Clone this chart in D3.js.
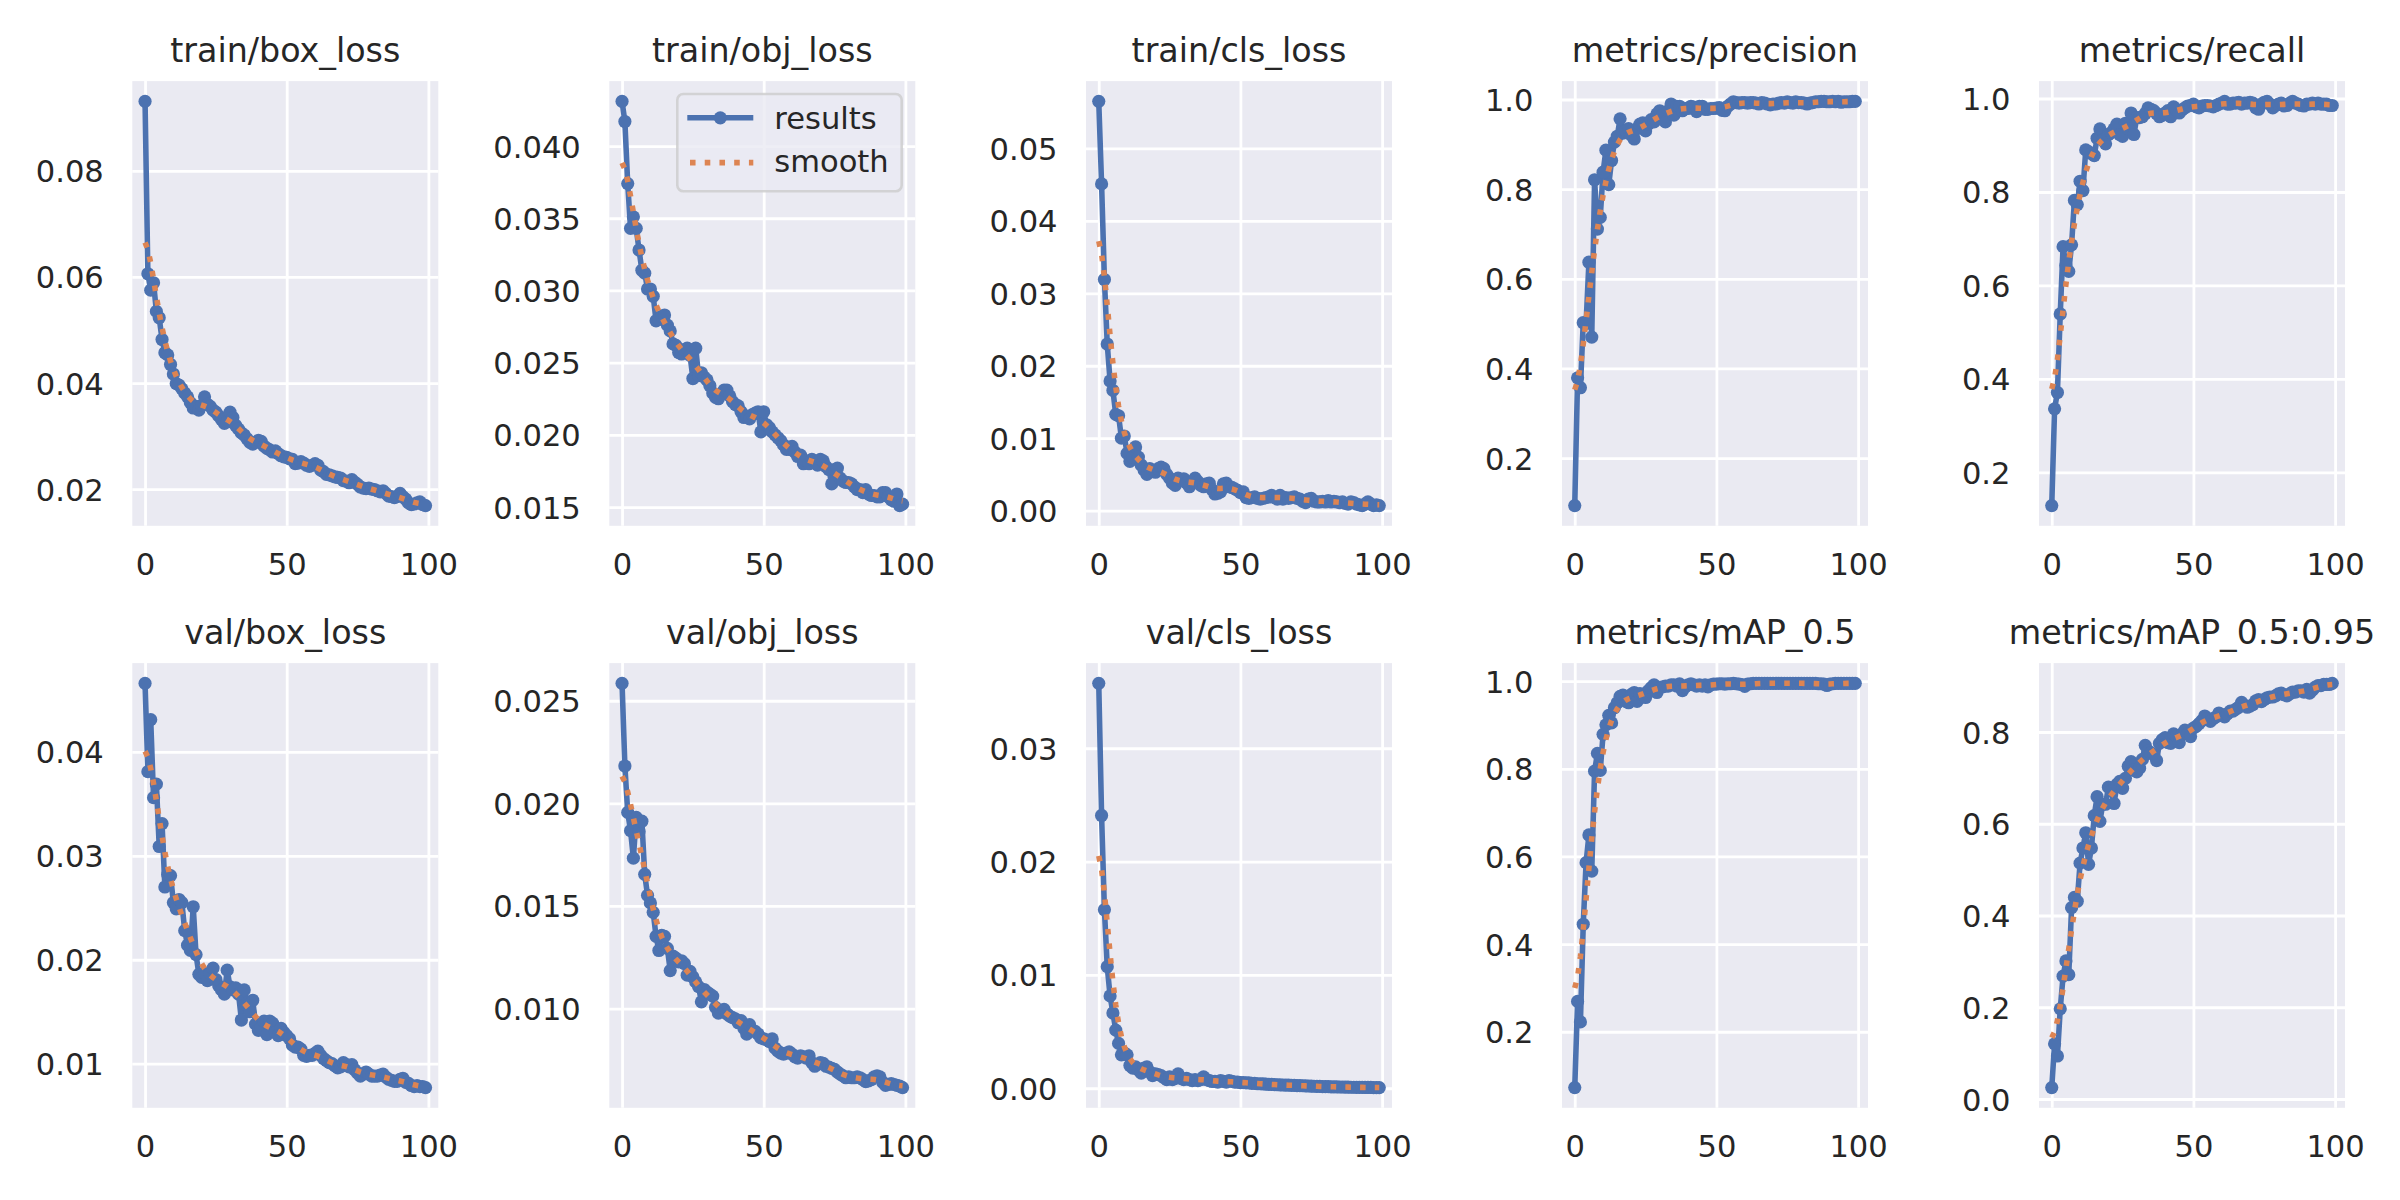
<!DOCTYPE html>
<html><head><meta charset="utf-8">
<script src="https://cdn.jsdelivr.net/npm/d3@7"></script>
<style>body{margin:0;background:#fff}text{font-family:"DejaVu Sans",sans-serif;fill:#262626}</style>
</head><body>
<svg id="chart" width="2400" height="1200"></svg>
<script>
// ---------------- data ----------------
const epochs = d3.range(100);
const xTicks = [0, 50, 100];

const trainBox = [0.0931,0.0606,0.0575,0.0589,0.0535,0.0523,0.0482,0.0457,0.0453,0.0435,
0.0417,0.0399,0.0396,0.0389,0.0381,0.0374,0.0363,0.0353,0.0356,0.0349,
0.0358,0.0374,0.0360,0.0356,0.0349,0.0345,0.0338,0.0331,0.0324,0.0327,
0.0345,0.0335,0.0320,0.0313,0.0306,0.0302,0.0295,0.0288,0.0285,0.0288,
0.0292,0.0290,0.0281,0.0277,0.0274,0.0270,0.0272,0.0267,0.0263,0.0261,
0.0260,0.0257,0.0256,0.0248,0.0249,0.0252,0.0249,0.0245,0.0243,0.0245,
0.0248,0.0245,0.0236,0.0233,0.0228,0.0227,0.0225,0.0223,0.0222,0.0221,
0.0216,0.0215,0.0212,0.0218,0.0213,0.0209,0.0204,0.0202,0.0201,0.0202,
0.0200,0.0199,0.0197,0.0195,0.0197,0.0192,0.0187,0.0186,0.0184,0.0186,
0.0192,0.0186,0.0181,0.0174,0.0171,0.0172,0.0174,0.0176,0.0171,0.0169];

const trainObj = [0.0431,0.0417,0.0374,0.0343,0.0351,0.0343,0.0328,0.0314,0.0312,0.0301,
0.0301,0.0296,0.0279,0.0280,0.0282,0.0283,0.0276,0.0272,0.0263,0.0262,
0.0257,0.0256,0.0259,0.0260,0.0255,0.0239,0.0260,0.0241,0.0243,0.0240,
0.0238,0.0234,0.0229,0.0226,0.0225,0.0228,0.0231,0.0231,0.0227,0.0223,
0.0221,0.0220,0.0216,0.0212,0.0213,0.0211,0.0214,0.0215,0.0216,0.0202,
0.0216,0.0207,0.0205,0.0202,0.0200,0.0198,0.0196,0.0193,0.0190,0.0190,
0.0192,0.0188,0.0185,0.0186,0.0180,0.0182,0.0180,0.0183,0.0182,0.0179,
0.0183,0.0182,0.0178,0.0176,0.0166,0.0176,0.0177,0.0170,0.0168,0.0167,
0.0167,0.0166,0.0164,0.0162,0.0162,0.0160,0.0162,0.0159,0.0158,0.0158,
0.0157,0.0157,0.0160,0.0160,0.0157,0.0155,0.0154,0.0159,0.0151,0.0152];

const trainCls = [0.0565,0.0451,0.0319,0.0230,0.0179,0.0166,0.0133,0.0131,0.0100,0.0103,
0.0079,0.0068,0.0074,0.0088,0.0074,0.0063,0.0056,0.0050,0.0058,0.0056,
0.0053,0.0058,0.0060,0.0058,0.0050,0.0045,0.0038,0.0035,0.0045,0.0042,
0.0044,0.0038,0.0033,0.0039,0.0045,0.0040,0.0035,0.0033,0.0037,0.0038,
0.0029,0.0023,0.0024,0.0026,0.0037,0.0038,0.0033,0.0032,0.0030,0.0028,
0.0025,0.0026,0.0018,0.0017,0.0018,0.0019,0.0017,0.0016,0.0017,0.0018,
0.0019,0.0021,0.0018,0.0016,0.0021,0.0016,0.0018,0.0017,0.0018,0.0019,
0.0017,0.0016,0.0013,0.0011,0.0016,0.0017,0.0013,0.0012,0.0012,0.0013,
0.0012,0.0014,0.0012,0.0013,0.0012,0.0011,0.0012,0.0010,0.0009,0.0012,
0.0011,0.0009,0.0008,0.0007,0.0009,0.0012,0.0009,0.0007,0.0008,0.0007];

const precision = [0.094,0.379,0.357,0.502,0.500,0.637,0.470,0.821,0.711,0.737,
0.838,0.887,0.810,0.864,0.905,0.918,0.957,0.925,0.930,0.935,
0.920,0.912,0.935,0.945,0.948,0.930,0.945,0.955,0.950,0.968,
0.975,0.965,0.950,0.975,0.990,0.965,0.985,0.985,0.975,0.980,
0.980,0.985,0.983,0.973,0.985,0.985,0.978,0.978,0.980,0.980,
0.981,0.982,0.976,0.975,0.985,0.990,0.995,0.993,0.992,0.993,
0.993,0.992,0.993,0.993,0.992,0.990,0.993,0.992,0.990,0.988,
0.990,0.990,0.992,0.993,0.992,0.995,0.993,0.992,0.995,0.993,
0.993,0.992,0.990,0.992,0.993,0.995,0.995,0.996,0.996,0.995,
0.995,0.996,0.995,0.996,0.994,0.995,0.995,0.995,0.996,0.996];

const recall = [0.129,0.336,0.371,0.539,0.683,0.643,0.630,0.687,0.782,0.773,
0.823,0.803,0.890,0.886,0.882,0.878,0.915,0.935,0.911,0.903,
0.923,0.927,0.935,0.945,0.923,0.919,0.947,0.935,0.969,0.923,
0.959,0.959,0.961,0.968,0.980,0.977,0.974,0.968,0.961,0.964,
0.969,0.974,0.961,0.982,0.976,0.969,0.976,0.980,0.984,0.985,
0.988,0.982,0.980,0.984,0.985,0.985,0.984,0.982,0.985,0.988,
0.990,0.994,0.988,0.988,0.990,0.990,0.992,0.988,0.990,0.990,
0.992,0.990,0.980,0.977,0.988,0.992,0.994,0.988,0.980,0.985,
0.988,0.990,0.984,0.985,0.990,0.994,0.990,0.988,0.985,0.984,
0.988,0.988,0.990,0.988,0.990,0.988,0.988,0.988,0.985,0.985];

const valBox = [0.0466,0.0381,0.0431,0.0356,0.0369,0.0309,0.0331,0.0270,0.0282,0.0281,
0.0255,0.0249,0.0258,0.0255,0.0228,0.0214,0.0209,0.0251,0.0205,0.0186,
0.0183,0.0187,0.0180,0.0187,0.0192,0.0181,0.0175,0.0171,0.0167,0.0190,
0.0174,0.0171,0.0173,0.0167,0.0142,0.0171,0.0156,0.0150,0.0161,0.0138,
0.0132,0.0135,0.0141,0.0128,0.0141,0.0139,0.0130,0.0127,0.0134,0.0130,
0.0127,0.0124,0.0118,0.0116,0.0116,0.0114,0.0108,0.0107,0.0108,0.0108,
0.0110,0.0112,0.0108,0.0105,0.0103,0.0101,0.0100,0.0098,0.0096,0.0097,
0.0101,0.0099,0.0097,0.0099,0.0094,0.0091,0.0088,0.0090,0.0092,0.0090,
0.0088,0.0088,0.0088,0.0089,0.0090,0.0087,0.0085,0.0084,0.0083,0.0083,
0.0085,0.0086,0.0082,0.0081,0.0079,0.0078,0.0079,0.0078,0.0078,0.0077];

const valObj = [0.02585,0.02182,0.01956,0.01867,0.01733,0.01932,0.01863,0.01913,0.01654,0.01552,
0.01515,0.01469,0.01352,0.01283,0.01357,0.01352,0.01293,0.01185,0.01256,0.01246,
0.01228,0.01233,0.01219,0.01163,0.01181,0.01154,0.01130,0.01107,0.01033,0.01093,
0.01080,0.01070,0.01061,0.01006,0.00978,0.00987,0.00996,0.00974,0.00963,0.00956,
0.00950,0.00931,0.00941,0.00904,0.00876,0.00922,0.00894,0.00889,0.00876,0.00857,
0.00852,0.00848,0.00839,0.00852,0.00807,0.00793,0.00783,0.00778,0.00783,0.00789,
0.00778,0.00765,0.00759,0.00770,0.00765,0.00759,0.00770,0.00737,0.00719,0.00728,
0.00737,0.00733,0.00719,0.00715,0.00709,0.00704,0.00691,0.00681,0.00672,0.00663,
0.00667,0.00663,0.00663,0.00667,0.00663,0.00654,0.00644,0.00648,0.00654,0.00667,
0.00672,0.00667,0.00641,0.00626,0.00630,0.00635,0.00630,0.00626,0.00622,0.00615];

const valCls = [0.03573,0.02407,0.01575,0.01073,0.00815,0.00664,0.00513,0.00396,0.00295,0.00312,
0.00295,0.00201,0.00178,0.00188,0.00161,0.00134,0.00178,0.00188,0.00144,0.00111,
0.00127,0.00121,0.00111,0.00094,0.00077,0.00101,0.00077,0.00087,0.00127,0.00087,
0.00077,0.00087,0.00077,0.00067,0.00077,0.00067,0.00077,0.00101,0.00077,0.00067,
0.00060,0.00060,0.00054,0.00067,0.00060,0.00054,0.00067,0.00060,0.00054,0.00054,
0.00050,0.00050,0.00047,0.00047,0.00044,0.00044,0.00040,0.00040,0.00038,0.00037,
0.00035,0.00034,0.00033,0.00031,0.00030,0.00029,0.00028,0.00027,0.00026,0.00025,
0.00024,0.00023,0.00022,0.00021,0.00020,0.00019,0.00018,0.00017,0.00016,0.00015,
0.00015,0.00014,0.00013,0.00013,0.00012,0.00011,0.00011,0.00010,0.00010,0.00009,
0.00009,0.00008,0.00008,0.00008,0.00007,0.00007,0.00007,0.00006,0.00006,0.00006];

const map50 = [0.0726,0.2693,0.2225,0.4453,0.5857,0.6490,0.5666,0.7946,0.8353,0.7963,
0.8786,0.9003,0.9220,0.9046,0.9393,0.9506,0.9653,0.9679,0.9540,0.9506,
0.9696,0.9740,0.9540,0.9713,0.9696,0.9627,0.9783,0.9852,0.9913,0.9740,
0.9852,0.9870,0.9887,0.9887,0.9913,0.9913,0.9887,0.9939,0.9783,0.9870,
0.9913,0.9939,0.9913,0.9887,0.9913,0.9887,0.9913,0.9870,0.9913,0.993,
0.993,0.994,0.994,0.993,0.994,0.994,0.995,0.994,0.993,0.992,
0.988,0.993,0.994,0.995,0.995,0.995,0.995,0.995,0.995,0.995,
0.995,0.995,0.995,0.995,0.995,0.995,0.995,0.995,0.995,0.995,
0.995,0.995,0.995,0.995,0.995,0.995,0.994,0.994,0.993,0.990,
0.993,0.994,0.995,0.995,0.995,0.995,0.995,0.995,0.995,0.995];

const map95 = [0.0249,0.1202,0.0937,0.1965,0.2678,0.3009,0.2711,0.4170,0.4394,0.4311,
0.5140,0.5471,0.5803,0.5115,0.5471,0.6176,0.6591,0.6052,0.6425,0.6425,
0.6798,0.6715,0.6441,0.6856,0.6922,0.6773,0.6989,0.7254,0.7353,0.7171,
0.7129,0.7212,0.7403,0.7710,0.7585,0.7544,0.7502,0.7378,0.7751,0.7834,
0.7876,0.7768,0.7751,0.7958,0.7917,0.7768,0.7958,0.8041,0.7958,0.7900,
0.8083,0.8124,0.8182,0.8249,0.8348,0.8290,0.8232,0.8290,0.8331,0.8414,
0.8373,0.8331,0.8398,0.8456,0.8456,0.8497,0.8539,0.8647,0.8580,0.8539,
0.8564,0.8597,0.8680,0.8705,0.8663,0.8705,0.8746,0.8763,0.8763,0.8788,
0.8829,0.8846,0.8812,0.8788,0.8829,0.8871,0.8871,0.8895,0.8895,0.8871,
0.8928,0.8846,0.8912,0.8978,0.9011,0.9011,0.9036,0.9036,0.9036,0.9061];

const titles = ['train/box_loss','train/obj_loss','train/cls_loss','metrics/precision','metrics/recall',
  'val/box_loss','val/obj_loss','val/cls_loss','metrics/mAP_0.5','metrics/mAP_0.5:0.95'];
const ticksTrainBox = [0.02,0.04,0.06,0.08];
const ticksTrainObj = [0.015,0.020,0.025,0.030,0.035,0.040];
const ticksTrainCls = [0.00,0.01,0.02,0.03,0.04,0.05];
const ticksMetric = [0.2,0.4,0.6,0.8,1.0];
const ticksValBox = [0.01,0.02,0.03,0.04];
const ticksValObj = [0.010,0.015,0.020,0.025];
const ticksValCls = [0.00,0.01,0.02,0.03];
const ticksMap95 = [0.0,0.2,0.4,0.6,0.8];
const legendLabels = ['results','smooth'];

// ---------------- layout / style ----------------
const series = [trainBox,trainObj,trainCls,precision,recall,valBox,valObj,valCls,map50,map95];
const tickSets = [ticksTrainBox,ticksTrainObj,ticksTrainCls,ticksMetric,ticksMetric,
                  ticksValBox,ticksValObj,ticksValCls,ticksMetric,ticksMap95];
const formats = ['.2f','.3f','.2f','.1f','.1f','.2f','.3f','.2f','.1f','.1f'];
const colLeft = [132.3, 609.3, 1086, 1562, 2039];
const rowTop = [81.1, 663.1];
const W = 306, H = 444.7;
const BLUE = '#4C72B0', ORANGE = '#DD8452', BG = '#EAEAF2';
const LW = 5.56;

function gaussianSmooth(y, sigma) {
  const r = Math.floor(4 * sigma + 0.5);
  const w = [];
  for (let k = -r; k <= r; k++) w.push(Math.exp(-0.5 * k * k / (sigma * sigma)));
  const s = d3.sum(w);
  const n = y.length;
  const idx = i => { while (i < 0 || i >= n) { if (i < 0) i = -i - 1; if (i >= n) i = 2 * n - i - 1; } return i; };
  return y.map((_, i) => { let acc = 0; for (let k = -r; k <= r; k++) acc += w[k + r] / s * y[idx(i + k)]; return acc; });
}

const svg = d3.select('#chart');
svg.append('rect').attr('width', 2400).attr('height', 1200).attr('fill', '#fff');

series.forEach((vals, p) => {
  const left = colLeft[p % 5], top = rowTop[Math.floor(p / 5)];
  const g = svg.append('g').attr('transform', `translate(${left},${top})`);
  const [mn, mx] = d3.extent(vals);
  const pad = (mx - mn) * 0.05;
  const x = d3.scaleLinear().domain([-4.5, 103.5]).range([0, W]);
  const y = d3.scaleLinear().domain([mn - pad, mx + pad]).range([H, 0]);

  g.append('rect').attr('width', W).attr('height', H).attr('fill', BG);
  const clipId = 'clip' + p;
  g.append('clipPath').attr('id', clipId).append('rect').attr('width', W).attr('height', H);

  // grid + labels
  const ya = g.append('g').call(d3.axisLeft(y).tickValues(tickSets[p]).tickSize(-W).tickPadding(28.5).tickFormat(d3.format(formats[p])));
  ya.select('.domain').remove();
  ya.selectAll('line').attr('stroke', '#fff').attr('stroke-width', 2.8);
  ya.selectAll('text').attr('font-size', 30.56).attr('dy', '0.36em').attr('fill', '#262626');
  const xa = g.append('g').attr('transform', `translate(0,${H})`).call(d3.axisBottom(x).tickValues(xTicks).tickSize(-H).tickFormat(d3.format('d')));
  xa.select('.domain').remove();
  xa.selectAll('line').attr('stroke', '#fff').attr('stroke-width', 2.8);
  xa.selectAll('text').attr('font-size', 30.56).attr('y', 49.7).attr('dy', 0).attr('fill', '#262626');
  xa.attr('font-family', null); ya.attr('font-family', null);

  const plot = g.append('g').attr('clip-path', `url(#${clipId})`);
  const line = d3.line().x((d, i) => x(epochs[i])).y(d => y(d));
  plot.append('path').datum(vals).attr('d', line).attr('fill', 'none')
    .attr('stroke', BLUE).attr('stroke-width', LW).attr('stroke-linejoin', 'round');
  plot.selectAll('circle').data(vals).join('circle')
    .attr('cx', (d, i) => x(epochs[i])).attr('cy', d => y(d)).attr('r', 6.6).attr('fill', BLUE);
  plot.append('path').datum(gaussianSmooth(vals, 3)).attr('d', line).attr('fill', 'none')
    .attr('stroke', ORANGE).attr('stroke-width', LW).attr('stroke-dasharray', '5.56,9.17');

  g.append('text').attr('x', W / 2).attr('y', -19.5).attr('text-anchor', 'middle')
    .attr('font-size', 33.33).text(titles[p]);

  if (p === 1) {
    const lg = g.append('g').attr('transform', 'translate(68,12.9)');
    lg.append('rect').attr('width', 224.4).attr('height', 97.3).attr('rx', 6.1)
      .attr('fill', BG).attr('fill-opacity', 0.8).attr('stroke', '#cccccc').attr('stroke-opacity', 0.8).attr('stroke-width', 2.6);
    lg.append('line').attr('x1', 10).attr('x2', 76).attr('y1', 23.8).attr('y2', 23.8)
      .attr('stroke', BLUE).attr('stroke-width', LW);
    lg.append('circle').attr('cx', 43).attr('cy', 23.8).attr('r', 6.6).attr('fill', BLUE);
    lg.append('line').attr('x1', 12.7).attr('x2', 76).attr('y1', 68.6).attr('y2', 68.6)
      .attr('stroke', ORANGE).attr('stroke-width', LW).attr('stroke-dasharray', '5.56,9.17');
    lg.append('text').attr('x', 97).attr('y', 35.4).attr('font-size', 30.56).text(legendLabels[0]);
    lg.append('text').attr('x', 97).attr('y', 77.8).attr('font-size', 30.56).text(legendLabels[1]);
  }
});
</script>
</body></html>
